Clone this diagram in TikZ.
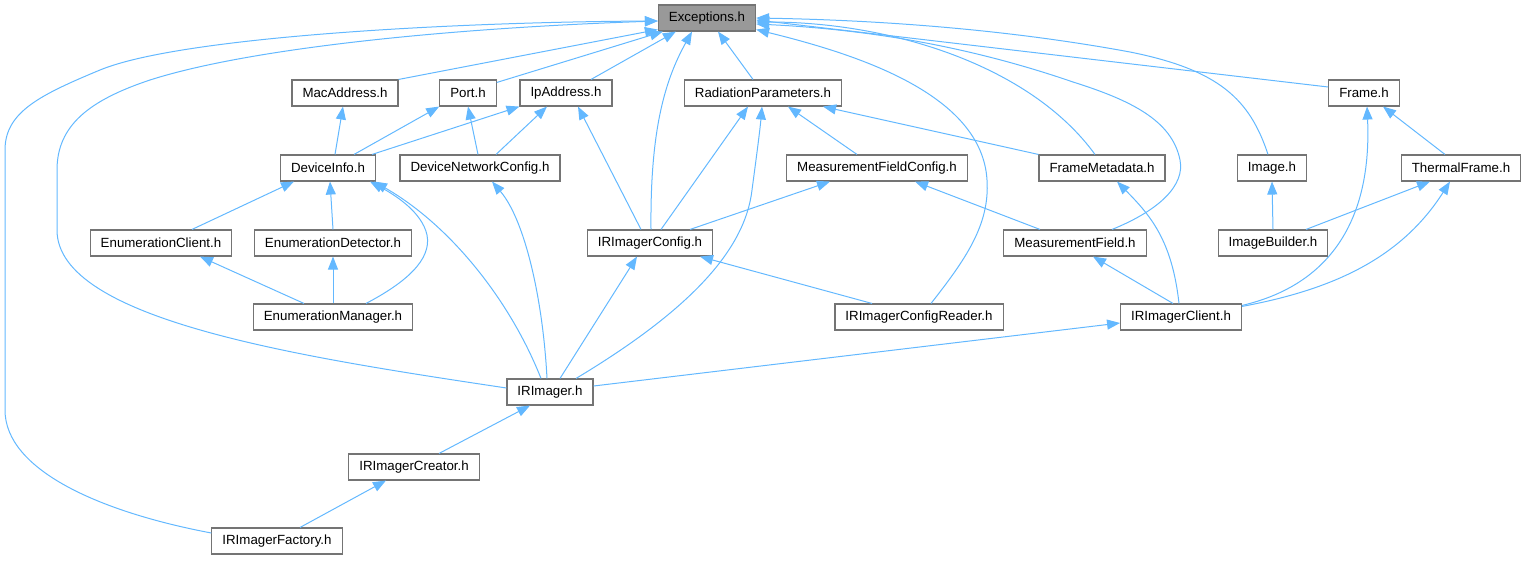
\documentclass[tikz,border=0pt]{standalone}
\usepackage{fontspec}
\setmainfont{Liberation Sans}
\usetikzlibrary{arrows.meta}
\definecolor{edgeblue}{HTML}{63B8FF}
\definecolor{boxline}{HTML}{747474}
\definecolor{boxfill}{HTML}{999999}

\begin{document}
\begin{tikzpicture}[x=1pt,y=-1pt,
  file/.style={draw=boxline,fill=white,line width=1.1pt,minimum height=26pt,
    inner xsep=10.5pt,inner ysep=0pt,font=\fontsize{13.3}{16}\selectfont},
  dep/.style={-{Triangle[length=13pt,width=10pt]},draw=edgeblue,line width=1pt}]
  \useasboundingbox (0,0) rectangle (1525,560);
  % \draw[help lines] (0,0) grid (1525,560);
  \node[file,fill=boxfill] (exc) at (707,18)  {Exceptions.h};
  \node[file] (mac)   at (345,93)   {MacAddress.h};
  \node[file] (port)  at (468,93)   {Port.h};
  \node[file] (ip)    at (566,93)   {IpAddress.h};
  \node[file] (rad)   at (763,93)   {RadiationParameters.h};
  \node[file] (frame) at (1364,93)  {Frame.h};
  \node[file] (dev)   at (328,168)  {DeviceInfo.h};
  \node[file] (dnc)   at (480,168)  {DeviceNetworkConfig.h};
  \node[file] (mfc)   at (877,168)  {MeasurementFieldConfig.h};
  \node[file] (fmd)   at (1102,168) {FrameMetadata.h};
  \node[file] (img)   at (1272,168) {Image.h};
  \node[file] (tf)    at (1461,168) {ThermalFrame.h};
  \node[file] (ecl)   at (161,243)  {EnumerationClient.h};
  \node[file] (edt)   at (333,243)  {EnumerationDetector.h};
  \node[file] (cfg)   at (650,243)  {IRImagerConfig.h};
  \node[file] (mf)    at (1075,243) {MeasurementField.h};
  \node[file] (ib)    at (1273,243) {ImageBuilder.h};
  \node[file] (emg)   at (333,317)  {EnumerationManager.h};
  \node[file] (cfr)   at (919,317)  {IRImagerConfigReader.h};
  \node[file] (cli)   at (1181,317) {IRImagerClient.h};
  \node[file] (irm)   at (550,392)  {IRImager.h};
  \node[file] (cre)   at (414,467)  {IRImagerCreator.h};
  \node[file] (fac)   at (277,541)  {IRImagerFactory.h};

  % everything that includes Exceptions.h
  \draw[dep] ([yshift=8]fac.west) .. controls (100,512) and (5,470) .. (5,410) -- (5,150)
    .. controls (5,112) and (40,95) .. (100,70) .. controls (180,37) and (450,22) .. ([yshift=-3]exc.west);
  \draw[dep] ([yshift=4]irm.west) .. controls (300,357) and (57,320) .. (57,230) -- (57,170)
    .. controls (57,125) and (90,100) .. (150,80) .. controls (250,48) and (450,28) .. ([yshift=-3]exc.west);
  \path (mac.north east) edge[dep] ([yshift=2]exc.south west)
        ([yshift=-3]port.north east) edge[dep] ([xshift=5]exc.south west)
        ([xshift=25]ip.north) edge[dep] ([xshift=18]exc.south west)
        ([xshift=-10]rad.north) edge[dep] ([xshift=11]exc.south)
        ([yshift=6]frame.west) edge[dep] ([yshift=-2]exc.east);
  \draw[dep] ([xshift=1]cfg.north) .. controls (650,130) and (665,80) .. ([xshift=-15]exc.south);
  \draw[dep] ([xshift=12]cfr.north) .. controls (965,260) and (990,225) .. (987,180)
    .. controls (982,95) and (860,55) .. ([yshift=2]exc.south east);
  \draw[dep] ([xshift=-7]fmd.north) .. controls (1030,65) and (890,22) .. ([yshift=-4]exc.east);
  \draw[dep] ([xshift=37]mf.north) .. controls (1160,210) and (1185,185) .. (1180,160)
    .. controls (1172,120) and (1130,100) .. (1073,82) .. controls (980,50) and (880,30) .. ([yshift=-6]exc.east);
  \draw[dep] ([xshift=-4]img.north) .. controls (1250,100) and (1220,70) .. (1130,52)
    .. controls (1000,28) and (870,20) .. (exc.east);

  % second row
  \path ([xshift=7]dev.north) edge[dep] ([xshift=-2]mac.south)
        ([xshift=26]dev.north) edge[dep] (port.south west)
        ([xshift=44]dev.north) edge[dep] (ip.south west)
        ([xshift=-2]dnc.north) edge[dep] (port.south)
        ([xshift=16]dnc.north) edge[dep] ([xshift=-19]ip.south)
        ([xshift=-9]cfg.north) edge[dep] ([xshift=12]ip.south)
        ([xshift=11]cfg.north) edge[dep] ([xshift=-15]rad.south)
        ([xshift=-20]mfc.north) edge[dep] ([xshift=25]rad.south)
        (fmd.north west) edge[dep] ([xshift=60]rad.south)
        ([xshift=-16]tf.north) edge[dep] ([xshift=19]frame.south);
  \draw[dep] ([xshift=26]irm.north) .. controls (690,310) and (745,250) .. (752,190)
    .. controls (756,160) and (760,130) .. ([xshift=-1]rad.south);

  % third row
  \path ([xshift=31]ecl.north) edge[dep] ([xshift=-34]dev.south)
        (edt.north) edge[dep] ([xshift=2]dev.south)
        ([xshift=40]cfg.north) edge[dep] ([xshift=-47]mfc.south)
        ([xshift=-35]mf.north) edge[dep] ([xshift=38]mfc.south)
        (ib.north) edge[dep] (img.south)
        ([xshift=33]ib.north) edge[dep] ([xshift=-31]tf.south);
  \draw[dep] ([xshift=33]emg.north) .. controls (405,283) and (432,260) .. (427,235)
    .. controls (422,212) and (395,195) .. ([xshift=42]dev.south);
  \draw[dep] ([xshift=-9]irm.north) .. controls (510,300) and (450,225) .. ([xshift=46]dev.south);
  \draw[dep] ([xshift=-3]irm.north) .. controls (543,300) and (525,220) .. ([xshift=12]dnc.south);

  % lower rows
  \path ([xshift=-29]emg.north) edge[dep] ([xshift=39]ecl.south)
        (emg.north) edge[dep] (edt.south)
        ([xshift=10]irm.north) edge[dep] ([xshift=-13]cfg.south)
        ([xshift=-47]cfr.north) edge[dep] ([xshift=50]cfg.south)
        ([xshift=-8]cli.north) edge[dep] ([xshift=18]mf.south)
        ([yshift=6]irm.east) edge[dep] ([yshift=-6]cli.west)
        ([xshift=25]cre.north) edge[dep] ([xshift=-20]irm.south)
        ([xshift=23]fac.north) edge[dep] ([xshift=-28]cre.south);
  \draw[dep] ([xshift=-2]cli.north) .. controls (1172,240) and (1150,215) .. ([xshift=15]fmd.south);
  \draw[dep] ([yshift=-2]cli.north east) .. controls (1330,285) and (1372,220) .. ([xshift=3]frame.south);
  \draw[dep] ([yshift=-3]cli.north east) .. controls (1330,290) and (1400,260) .. ([xshift=-11]tf.south);
\end{tikzpicture}
\end{document}
